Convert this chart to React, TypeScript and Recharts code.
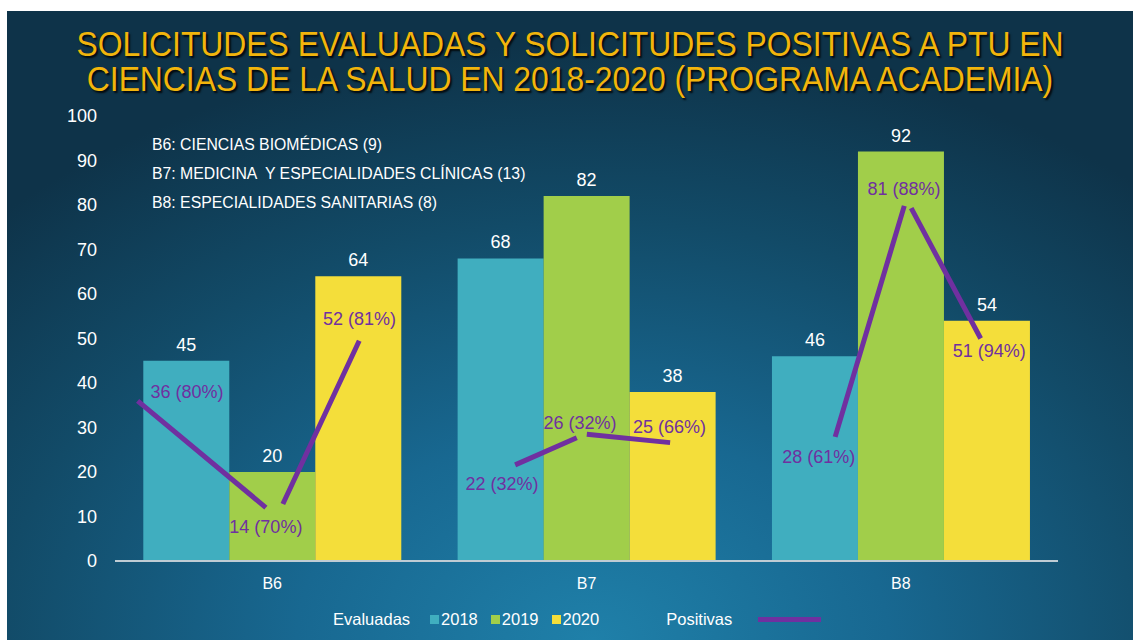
import React from 'react';
import { ComposedChart, Bar, Line, Scatter, XAxis, YAxis, LabelList } from 'recharts';

// ---- data ----
const categories = ['B6', 'B7', 'B8'];
const evaluadas2018 = [45, 68, 46];
const evaluadas2019 = [20, 82, 92];
const evaluadas2020 = [64, 38, 54];
const positivas = [36, 14, 52, 22, 26, 25, 28, 81, 51];
const positivasPct = [80, 70, 81, 32, 32, 66, 61, 88, 94];
const yTicks = [0, 10, 20, 30, 40, 50, 60, 70, 80, 90, 100];
const legendYears = ['2018', '2019', '2020'];
const annotations = [
  'B6: CIENCIAS BIOMÉDICAS (9)',
  'B7: MEDICINA  Y ESPECIALIDADES CLÍNICAS (13)',
  'B8: ESPECIALIDADES SANITARIAS (8)',
];
const titleLines = [
  'SOLICITUDES EVALUADAS Y SOLICITUDES POSITIVAS A PTU EN',
  'CIENCIAS DE LA SALUD EN 2018-2020 (PROGRAMA ACADEMIA)',
];

// "Positivas" line as drawn: segment end points (x in category units, value)
const positivasTrazoX = [0.072, 0.48, 0.534, 0.777, 1.273, 1.469, 1.501, 1.766, 2.291, 2.511, 2.533, 2.754];
const positivasTrazoY = [36.0, 12.0, 12.8, 49.5, 21.6, 27.7, 28.5, 26.6, 27.9, 79.8, 79.3, 50.0];

// label layout for "Positivas" labels
const labelX = [0.229, 0.48, 0.778, 1.231, 1.479, 1.764, 2.239, 2.51, 2.781];
const labelDy = [-9, 28, -11, 21, -22, -23, 21, -12, 17];

const COLORS = { y2018: '#40AEBF', y2019: '#A1CE4A', y2020: '#F4DE3A', pos: '#7030A0' };
const FONT = '"Liberation Sans", Arial, sans-serif';

const barData = categories.map((c, i) => ({
  cat: c,
  y2018: evaluadas2018[i],
  y2019: evaluadas2019[i],
  y2020: evaluadas2020[i],
}));

const lineData: { x: number; y: number | null }[] = [];
for (let k = 0; k < positivasTrazoX.length; k += 2) {
  lineData.push({ x: positivasTrazoX[k], y: positivasTrazoY[k] });
  lineData.push({ x: positivasTrazoX[k + 1], y: positivasTrazoY[k + 1] });
  if (k + 2 < positivasTrazoX.length) {
    lineData.push({ x: (positivasTrazoX[k + 1] + positivasTrazoX[k + 2]) / 2, y: null });
  }
}

const labelData = positivas.map((v, i) => ({
  x: labelX[i],
  y: v,
  label: `${v} (${positivasPct[i]}%)`,
  dy: labelDy[i],
}));

const PosLabel = (props: any) => {
  const { cx, cy, payload } = props;
  if (cx == null || cy == null) return <g />;
  return (
    <text
      x={cx}
      y={cy + payload.dy}
      textAnchor="middle"
      dominantBaseline="central"
      fill={COLORS.pos}
      fontSize={18}
      fontFamily={FONT}
    >
      {payload.label}
    </text>
  );
};

export default function App() {
  const yearColors = [COLORS.y2018, COLORS.y2019, COLORS.y2020];
  return (
    <div style={{ position: 'absolute', left: 0, top: 0, width: 1133, height: 640, background: '#fff', overflow: 'hidden', fontFamily: FONT }}>
      <div
        style={{
          position: 'absolute',
          left: 7,
          top: 11,
          width: 1126,
          height: 629,
          background: 'radial-gradient(ellipse 75% 95% at 52% 100%, #1f80a9 0%, #186891 35%, #124b68 70%, #0e3349 100%)',
        }}
      />
      <div
        style={{
          position: 'absolute',
          left: 7,
          top: 26,
          width: 1126,
          textAlign: 'center',
          fontSize: 35,
          lineHeight: '35px',
          color: '#F2B50C',
          textShadow: '2px 2px 2px rgba(0,0,0,0.85)',
          transform: 'scaleX(0.91)',
          whiteSpace: 'nowrap',
        }}
      >
        {titleLines[0]}
        <br />
        {titleLines[1]}
      </div>
      <div style={{ position: 'absolute', left: 0, top: 0 }}>
        <ComposedChart
          width={1133}
          height={640}
          data={barData}
          margin={{ top: 116, right: 75, bottom: 49, left: 55 }}
          barCategoryGap="9%"
          barGap={0}
        >
          <XAxis
            xAxisId="cat"
            dataKey="cat"
            axisLine={{ stroke: '#bfccd4', strokeWidth: 2 }}
            tickLine={false}
            tick={{ fill: '#ffffff', fontSize: 16, fontFamily: FONT }}
            tickMargin={11}
          />
          <XAxis xAxisId="num" dataKey="x" type="number" domain={[0, 3]} allowDataOverflow hide />
          <YAxis
            domain={[0, 100]}
            ticks={yTicks}
            interval={0}
            axisLine={false}
            tickLine={false}
            width={60}
            tickMargin={12}
            tick={{ fill: '#ffffff', fontSize: 18, fontFamily: FONT }}
          />
          <Bar xAxisId="cat" dataKey="y2018" fill={COLORS.y2018} isAnimationActive={false}>
            <LabelList dataKey="y2018" position="top" offset={10} fill="#ffffff" fontSize={18} fontFamily={FONT} />
          </Bar>
          <Bar xAxisId="cat" dataKey="y2019" fill={COLORS.y2019} isAnimationActive={false}>
            <LabelList dataKey="y2019" position="top" offset={10} fill="#ffffff" fontSize={18} fontFamily={FONT} />
          </Bar>
          <Bar xAxisId="cat" dataKey="y2020" fill={COLORS.y2020} isAnimationActive={false}>
            <LabelList dataKey="y2020" position="top" offset={10} fill="#ffffff" fontSize={18} fontFamily={FONT} />
          </Bar>
          <Line
            xAxisId="num"
            data={lineData}
            dataKey="y"
            stroke={COLORS.pos}
            strokeWidth={5}
            dot={false}
            activeDot={false}
            connectNulls={false}
            type="linear"
            isAnimationActive={false}
          />
          <Scatter xAxisId="num" data={labelData} dataKey="y" shape={PosLabel} isAnimationActive={false} />
        </ComposedChart>
      </div>
      <div style={{ position: 'absolute', left: 152, top: 136, color: '#ffffff', fontSize: 15.8 }}>
        {annotations.map((a, i) => (
          <div key={i} style={{ height: 29, lineHeight: '18px', whiteSpace: 'pre' }}>
            {a}
          </div>
        ))}
      </div>
      <div
        style={{
          position: 'absolute',
          left: 333,
          top: 609,
          height: 20,
          display: 'flex',
          alignItems: 'center',
          color: '#ffffff',
          fontSize: 16.5,
          whiteSpace: 'nowrap',
        }}
      >
        <span style={{ marginRight: 20 }}>Evaluadas</span>
        {legendYears.map((y, i) => (
          <React.Fragment key={y}>
            <span style={{ display: 'inline-block', width: 9, height: 9, background: yearColors[i], marginRight: 2 }} />
            <span style={{ marginRight: i < legendYears.length - 1 ? 13 : 67 }}>{y}</span>
          </React.Fragment>
        ))}
        <span style={{ marginRight: 26 }}>Positivas</span>
        <span style={{ display: 'inline-block', width: 63, height: 5, background: COLORS.pos }} />
      </div>
    </div>
  );
}
